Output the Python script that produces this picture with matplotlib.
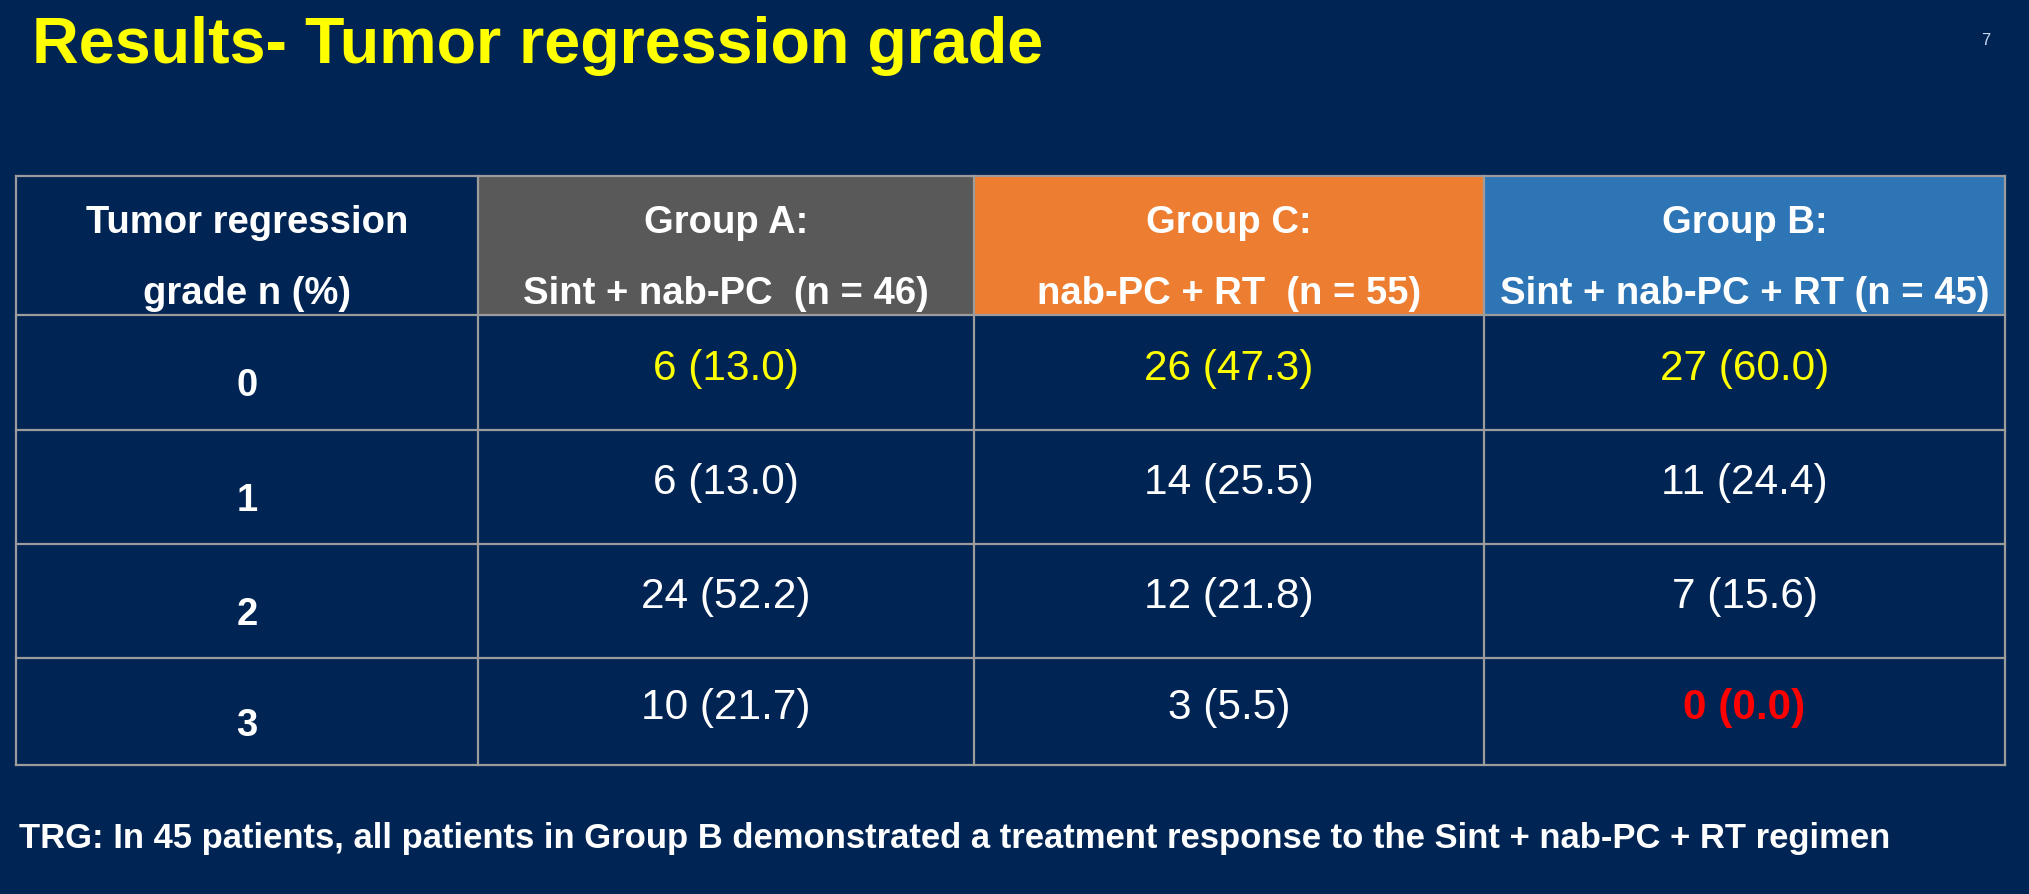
import matplotlib.pyplot as plt
from matplotlib.patches import Rectangle

# table content
grades = ["0", "1", "2", "3"]
groups = ["Group A:", "Group C:", "Group B:"]
regimens = ["Sint + nab-PC  (n = 46)", "nab-PC + RT  (n = 55)", "Sint + nab-PC + RT (n = 45)"]
counts_a = [6, 6, 24, 10]
pct_a = [13.0, 13.0, 52.2, 21.7]
counts_c = [26, 14, 12, 3]
pct_c = [47.3, 25.5, 21.8, 5.5]
counts_b = [27, 11, 7, 0]
pct_b = [60.0, 24.4, 15.6, 0.0]

title = "Results- Tumor regression grade"
first_col_header = ["Tumor regression", "grade n (%)"]
footnote = ("TRG: In 45 patients, all patients in Group B demonstrated a treatment "
            "response to the Sint + nab-PC + RT regimen")

bg = "#002454"
header_colors = [bg, "#595959", "#ED7D31", "#2E75B6"]
grid_color = "#9C9C9C"

plt.rcParams["font.family"] = ["Liberation Sans", "DejaVu Sans"]

W, H = 2029, 895
fig = plt.figure(figsize=(W / 100, H / 100), dpi=100)
fig.patch.set_facecolor(bg)
ax = fig.add_axes([0, 0, 1, 1])
ax.set_xlim(0, W)
ax.set_ylim(H, 0)
ax.axis("off")

# layout in pixels
col_edges = [16, 478, 974, 1484, 2005]
row_edges = [177, 316, 431, 545, 659, 766]

# header backgrounds
for j in range(4):
    ax.add_patch(Rectangle((col_edges[j], row_edges[0]),
                           col_edges[j + 1] - col_edges[j], row_edges[1] - row_edges[0],
                           facecolor=header_colors[j], edgecolor="none", zorder=1))

# grid lines
for x in col_edges:
    ax.plot([x, x], [row_edges[0], row_edges[-1]], color=grid_color, lw=1.6, zorder=3)
for y in row_edges:
    ax.plot([col_edges[0], col_edges[-1]], [y, y], color=grid_color, lw=1.6, zorder=3)

def cx(j):
    return (col_edges[j] + col_edges[j + 1]) / 2

def cy(i):
    return (row_edges[i] + row_edges[i + 1]) / 2

# header text
hdr_y1 = row_edges[0] + 46
hdr_y2 = row_edges[0] + 117
ax.text(cx(0), hdr_y1, first_col_header[0], color="white", fontsize=27.5,
        fontweight="bold", ha="center", va="center", zorder=4)
ax.text(cx(0), hdr_y2, first_col_header[1], color="white", fontsize=27.5,
        fontweight="bold", ha="center", va="center", zorder=4)
for j, (g, r) in enumerate(zip(groups, regimens)):
    ax.text(cx(j + 1), hdr_y1, g, color="white", fontsize=27.5,
            fontweight="bold", ha="center", va="center", zorder=4)
    ax.text(cx(j + 1), hdr_y2, r, color="white", fontsize=27.5,
            fontweight="bold", ha="center", va="center", zorder=4)

# body
cols = [(counts_a, pct_a), (counts_c, pct_c), (counts_b, pct_b)]
for i, g in enumerate(grades):
    ax.text(cx(0), cy(i + 1) + 13, g, color="white", fontsize=27.5,
            fontweight="bold", ha="center", va="center", zorder=4)
    for j, (cnt, pct) in enumerate(cols):
        label = f"{cnt[i]} ({pct[i]:.1f})"
        color, weight = "white", "normal"
        if i == 0:
            color = "#FFFF00"
        if cnt[i] == 0:
            color, weight = "#FF0000", "bold"
        ax.text(cx(j + 1), cy(i + 1) - 5, label, color=color, fontsize=30.5,
                fontweight=weight, ha="center", va="center", zorder=4)

ax.text(32, 63, title, color="#FFFF00", fontsize=46.5, fontweight="bold",
        ha="left", va="baseline")
ax.text(1986, 40, "7", color="#C8D8F0", fontsize=12, ha="center", va="center")
ax.text(19, 839, footnote, color="white", fontsize=24.9, fontweight="bold",
        ha="left", va="center")

fig.savefig("out.png", dpi=100, facecolor=bg)
